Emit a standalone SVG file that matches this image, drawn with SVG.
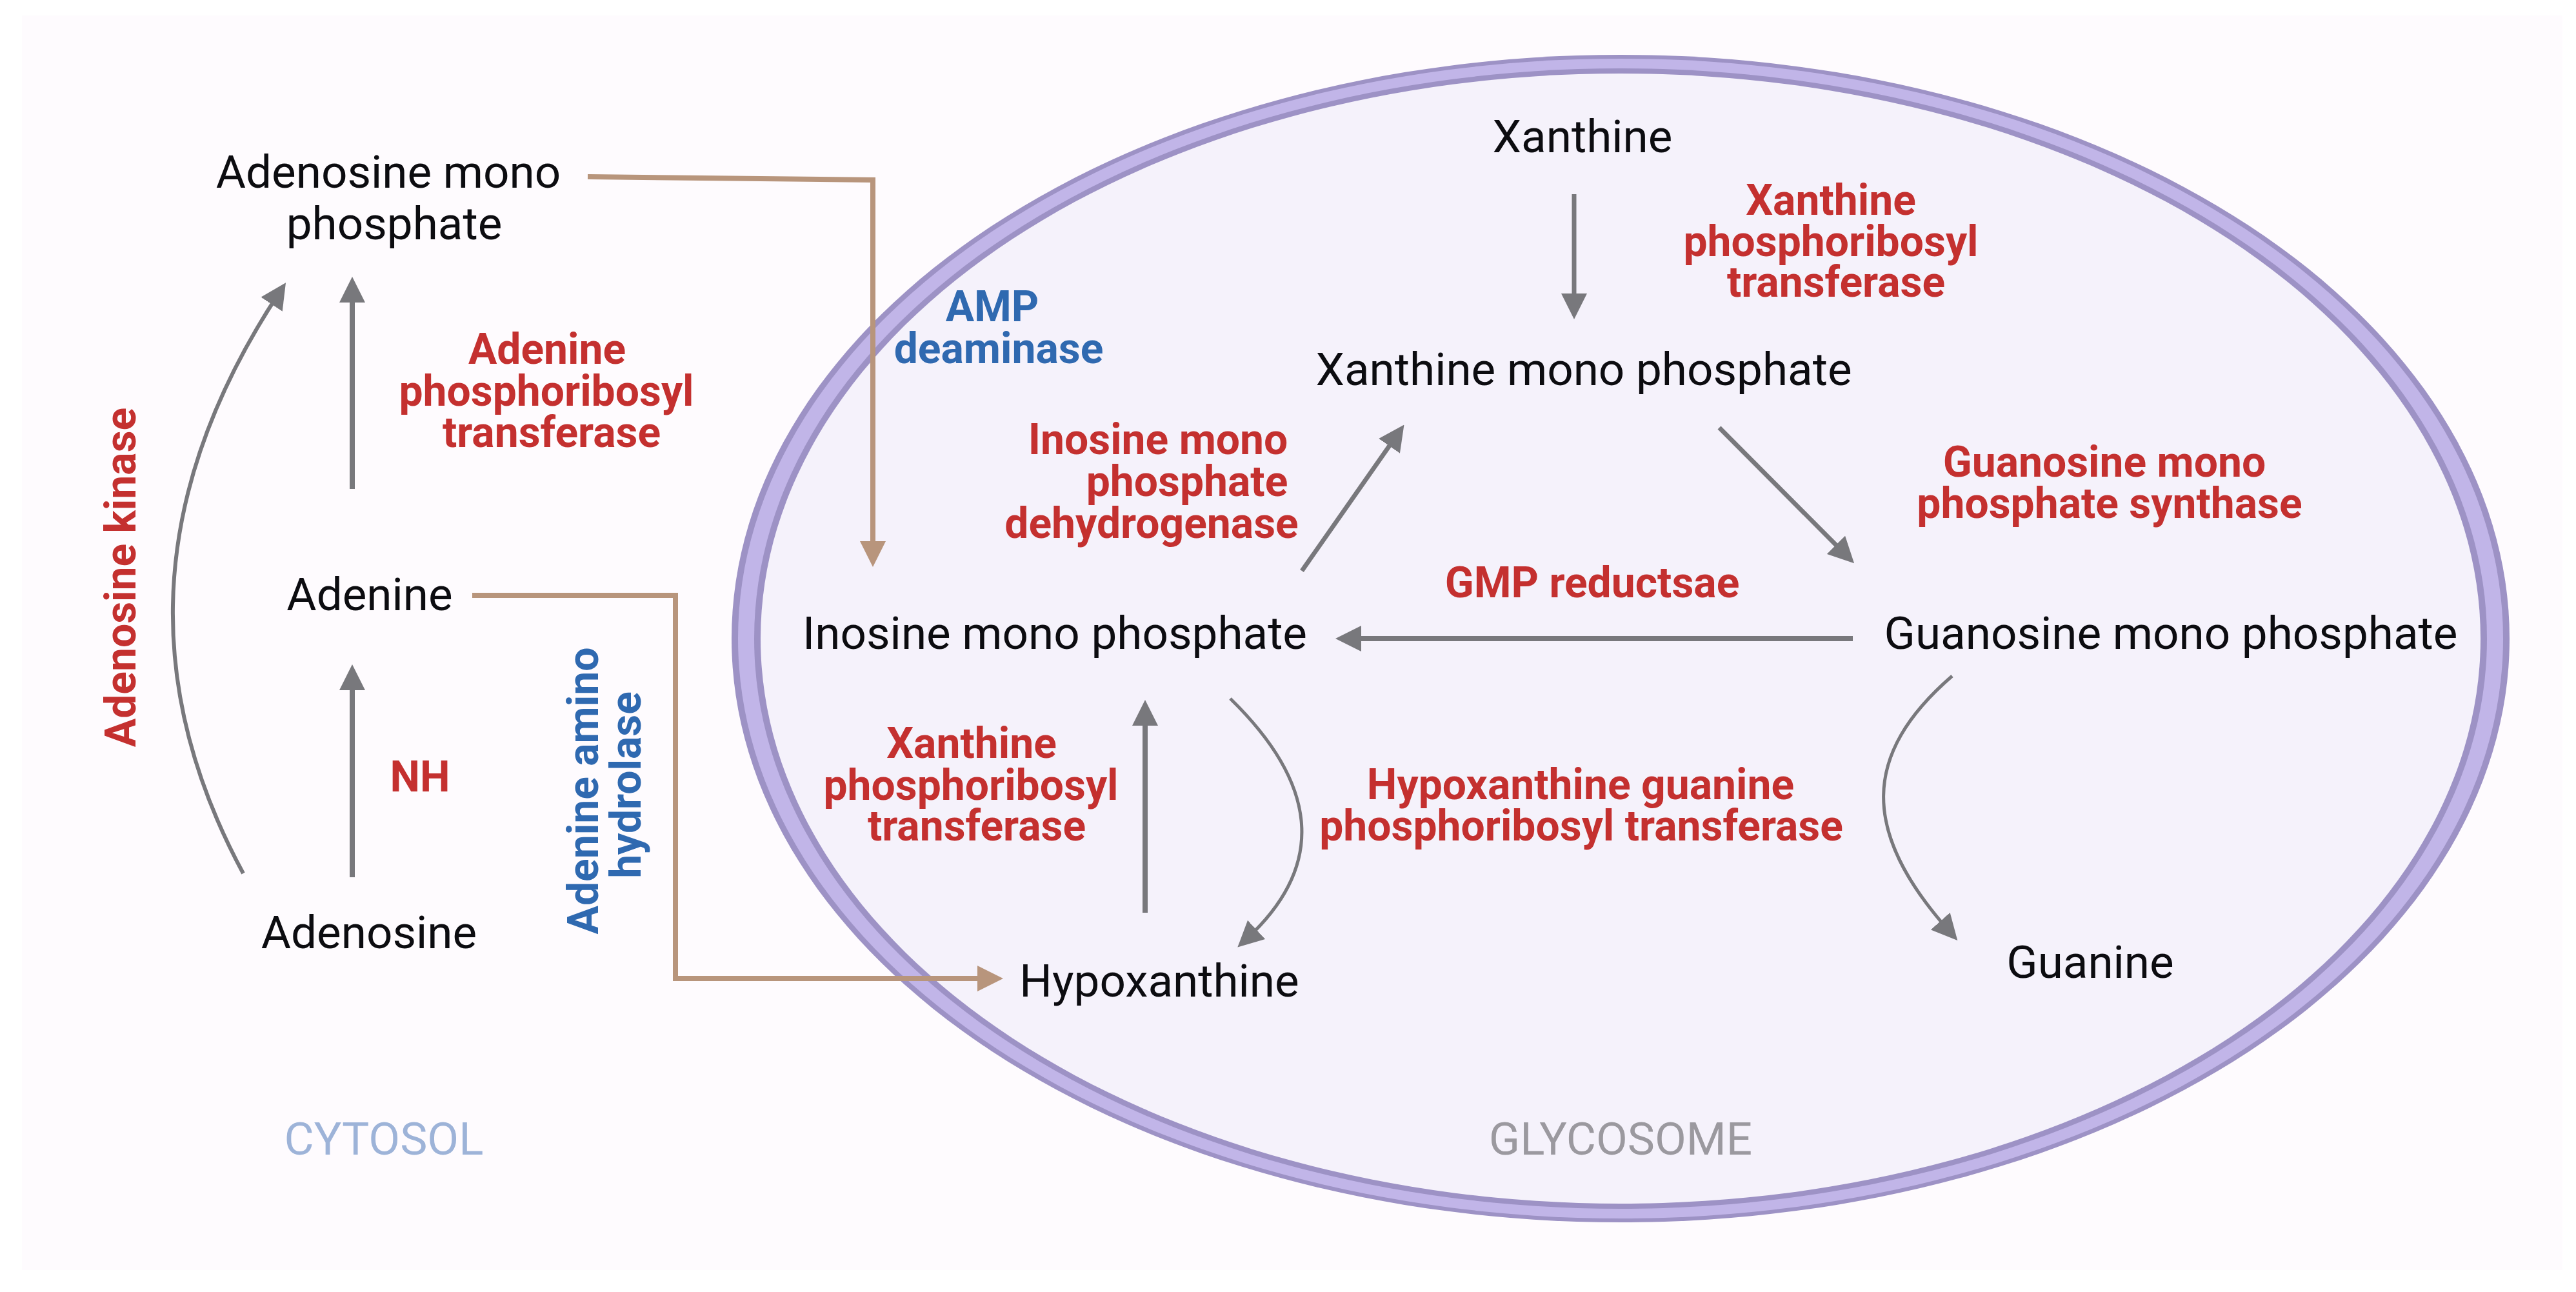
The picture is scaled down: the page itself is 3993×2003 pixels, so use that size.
<svg xmlns="http://www.w3.org/2000/svg" width="3993" height="2003" viewBox="0 0 3993 2003">
<style>
text{font-family:Roboto,"Liberation Sans",sans-serif;text-anchor:middle}
.n{font-size:71px;fill:#0c0c10}
.r{font-size:66px;font-weight:700;fill:#c4302f}
.b{font-size:66px;font-weight:700;fill:#2f69b0}
.g{fill:none;stroke:#78787c;stroke-width:8}
.m{fill:none;stroke:#78787c;stroke-width:7}
.k{fill:none;stroke:#78787c;stroke-width:6}
.t{fill:none;stroke:#78787c;stroke-width:5}
.c{fill:none;stroke:#b8957c;stroke-width:8}
</style>
<defs>
<marker id="ag" markerUnits="userSpaceOnUse" markerWidth="40" markerHeight="40" viewBox="0 0 40 40" refX="20" refY="20" orient="auto"><path d="M0 0L40 20L0 40Z" fill="#78787c"/></marker>
<marker id="ac" markerUnits="userSpaceOnUse" markerWidth="40" markerHeight="40" viewBox="0 0 40 40" refX="20" refY="20" orient="auto"><path d="M0 0L40 20L0 40Z" fill="#b8957c"/></marker>
</defs>
<rect width="3993" height="2003" fill="#ffffff"/>
<rect x="34" y="24" width="3938" height="1945" fill="#fefbfe"/>
<g id="glycosome">
<ellipse cx="2512" cy="990" rx="1378" ry="905" fill="#9d92c5"/>
<ellipse cx="2512" cy="990" rx="1368" ry="899" fill="#c1b5e8"/>
<ellipse cx="2512" cy="990" rx="1343" ry="884" fill="#9d92c5"/>
<ellipse cx="2512" cy="990" rx="1333" ry="876" fill="#f5f2fb"/>
<text x="2512" y="1790" font-size="71" fill="#9b999f">GLYCOSOME</text>
</g>
<g id="cytosol"><text x="595" y="1790" font-size="71" fill="#9db3d8">CYTOSOL</text></g>
<g id="connectors">
<path class="c" d="M911 274L1353 279L1353 859" marker-end="url(#ac)"/>
<path class="c" d="M732 923L1047 923L1047 1517L1535 1517" marker-end="url(#ac)"/>
<path class="g" d="M546 1360L546 1050" marker-end="url(#ag)"/>
<path class="g" d="M546 758L546 449" marker-end="url(#ag)"/>
<path class="k" d="M377 1354C240 1100 205 800 432 455" marker-end="url(#ag)"/>
<path class="m" d="M2440 301L2440 475" marker-end="url(#ag)"/>
<path class="m" d="M2018 885L2165 675" marker-end="url(#ag)"/>
<path class="m" d="M2665 663L2860 859" marker-end="url(#ag)"/>
<path class="g" d="M2872 990L2090 990" marker-end="url(#ag)"/>
<path class="g" d="M1775 1415L1775 1105" marker-end="url(#ag)"/>
<path class="t" d="M1907 1083Q2115 1286 1933 1455" marker-end="url(#ag)"/>
<path class="t" d="M3026 1048C2885 1170 2885 1290 3021 1443" marker-end="url(#ag)"/>
</g>
<g id="adenosine-mono-phosphate"><text class="n" x="602" y="291">Adenosine mono</text><text class="n" x="611" y="371">phosphate</text></g>
<g id="adenine"><text class="n" x="573" y="946">Adenine</text></g>
<g id="adenosine"><text class="n" x="572" y="1470">Adenosine</text></g>
<g id="xanthine"><text class="n" x="2453" y="236">Xanthine</text></g>
<g id="xanthine-mono-phosphate"><text class="n" x="2455" y="597">Xanthine mono phosphate</text></g>
<g id="inosine-mono-phosphate"><text class="n" x="1635" y="1006">Inosine mono phosphate</text></g>
<g id="guanosine-mono-phosphate"><text class="n" x="3365" y="1006">Guanosine mono phosphate</text></g>
<g id="hypoxanthine"><text class="n" x="1797" y="1545">Hypoxanthine</text></g>
<g id="guanine"><text class="n" x="3240" y="1516">Guanine</text></g>
<g id="enzymes">
<text class="r" x="848" y="564">Adenine</text><text class="r" x="847" y="629">phosphoribosyl</text><text class="r" x="855" y="693">transferase</text>
<text class="r" transform="translate(210 895) rotate(-90)">Adenosine kinase</text>
<text class="r" x="651" y="1227">NH</text>
<text class="b" transform="translate(927 1226) rotate(-90)">Adenine amino</text>
<text class="b" transform="translate(993 1217) rotate(-90)">hydrolase</text>
<text class="b" x="1538" y="498">AMP</text><text class="b" x="1548" y="563">deaminase</text>
<text class="r" x="1795" y="704">Inosine mono</text><text class="r" x="1840" y="769">phosphate</text><text class="r" x="1785" y="834">dehydrogenase</text>
<text class="r" x="2838" y="333">Xanthine</text><text class="r" x="2838" y="397">phosphoribosyl</text><text class="r" x="2846" y="460">transferase</text>
<text class="r" x="3262" y="739">Guanosine mono</text><text class="r" x="3270" y="803">phosphate synthase</text>
<text class="r" x="2468" y="926">GMP reductsae</text>
<text class="r" x="1506" y="1175">Xanthine</text><text class="r" x="1505" y="1240">phosphoribosyl</text><text class="r" x="1514" y="1303">transferase</text>
<text class="r" x="2450" y="1239">Hypoxanthine guanine</text><text class="r" x="2451" y="1303">phosphoribosyl transferase</text>
</g>
</svg>
